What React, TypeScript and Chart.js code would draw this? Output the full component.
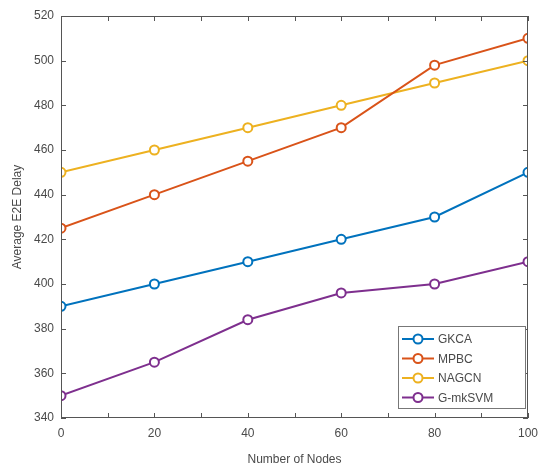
import React, { useEffect, useRef } from "react";
import { Chart, registerables } from "chart.js";

Chart.register(...registerables);

const nodes = [0, 20, 40, 60, 80, 100];
const gkca = [390, 400, 410, 420, 430, 450];
const mpbc = [425, 440, 455, 470, 498, 510];
const nagcn = [450, 460, 470, 480, 490, 500];
const gmksvm = [350, 365, 384, 396, 400, 410];

const seriesNames = ["GKCA", "MPBC", "NAGCN", "G-mkSVM"];
const seriesColors = ["#0072BD", "#D95319", "#EDB120", "#7E2F8E"];
const seriesValues = [gkca, mpbc, nagcn, gmksvm];

const FONT = "'Liberation Sans', Arial, sans-serif";
const TEXT = "#4a4a4a";
const AXIS = "#555555";

const boxPlugin = {
  id: "matlabBox",
  afterDraw(chart: any) {
    const { ctx, chartArea: a, scales } = chart;
    const x = scales.x, y = scales.y;
    ctx.save();
    ctx.strokeStyle = AXIS;
    ctx.lineWidth = 1;
    ctx.strokeRect(a.left + 0.5, a.top + 0.5, a.right - a.left - 1, a.bottom - a.top - 1);
    const tl = 5;
    ctx.beginPath();
    for (let v = 0; v <= 100; v += 10) {
      const px = Math.round(x.getPixelForValue(v)) + 0.5;
      ctx.moveTo(px, a.bottom);
      ctx.lineTo(px, a.bottom - tl);
      ctx.moveTo(px, a.top);
      ctx.lineTo(px, a.top + tl);
    }
    for (let v = 340; v <= 520; v += 20) {
      const py = Math.round(y.getPixelForValue(v)) + 0.5;
      ctx.moveTo(a.left, py);
      ctx.lineTo(a.left + tl, py);
      ctx.moveTo(a.right, py);
      ctx.lineTo(a.right - tl, py);
    }
    ctx.stroke();

    // legend
    const lx = 398, ly = 326, lw = 127, lh = 82;
    ctx.fillStyle = "#ffffff";
    ctx.fillRect(lx, ly, lw, lh);
    ctx.strokeStyle = "#777777";
    ctx.strokeRect(lx + 0.5, ly + 0.5, lw, lh);
    ctx.font = `12px ${FONT}`;
    ctx.textBaseline = "middle";
    ctx.textAlign = "left";
    for (let i = 0; i < seriesNames.length; i++) {
      const cy = ly + 13 + i * 19.5;
      ctx.strokeStyle = seriesColors[i];
      ctx.lineWidth = 2;
      ctx.beginPath();
      ctx.moveTo(lx + 4, cy);
      ctx.lineTo(lx + 36, cy);
      ctx.stroke();
      ctx.beginPath();
      ctx.arc(lx + 20, cy, 4.5, 0, Math.PI * 2);
      ctx.fillStyle = "#ffffff";
      ctx.fill();
      ctx.stroke();
      ctx.fillStyle = TEXT;
      ctx.fillText(seriesNames[i], lx + 40, cy + 1);
    }
    ctx.restore();
  },
};

export default function App() {
  const ref = useRef<HTMLCanvasElement>(null);
  useEffect(() => {
    if (!ref.current) return;
    const chart = new Chart(ref.current, {
      type: "line",
      data: {
        datasets: seriesNames.map((name, i) => ({
          label: name,
          data: nodes.map((n, j) => ({ x: n, y: seriesValues[i][j] })),
          borderColor: seriesColors[i],
          backgroundColor: "#ffffff",
          borderWidth: 2,
          pointRadius: 4.5,
          pointBorderWidth: 2,
          pointBackgroundColor: "#ffffff",
          pointBorderColor: seriesColors[i],
          tension: 0,
        })),
      },
      options: {
        animation: false,
        responsive: false,
        layout: { padding: { top: 16, right: 13, left: 10, bottom: 6 } },
        plugins: { legend: { display: false }, tooltip: { enabled: false } },
        scales: {
          x: {
            type: "linear",
            min: 0,
            max: 100,
            grid: { display: false, drawTicks: false },
            border: { display: false },
            ticks: {
              stepSize: 20,
              padding: 8,
              color: TEXT,
              font: { family: FONT, size: 12 },
            },
            title: {
              display: true,
              text: "Number of Nodes",
              color: TEXT,
              font: { family: FONT, size: 12 },
              padding: { top: 6, bottom: 0 },
            },
            afterFit(s: any) {
              s.height = 49;
              s.paddingRight = 0;
              s.paddingLeft = 0;
            },
          },
          y: {
            min: 340,
            max: 520,
            grid: { display: false, drawTicks: false },
            border: { display: false },
            ticks: {
              stepSize: 20,
              padding: 7,
              color: TEXT,
              font: { family: FONT, size: 12 },
            },
            title: {
              display: true,
              text: "Average E2E Delay",
              color: TEXT,
              font: { family: FONT, size: 12 },
              padding: { top: 0, bottom: 4 },
            },
            afterFit(s: any) {
              s.width = 51;
              s.paddingTop = 0;
              s.paddingBottom = 0;
            },
          },
        },
      },
      plugins: [boxPlugin],
    });
    return () => chart.destroy();
  }, []);
  return (
    <div style={{ position: "fixed", left: 0, top: 0, width: 541, height: 473, background: "#fff" }}>
      <canvas ref={ref} width={541} height={473} />
    </div>
  );
}
